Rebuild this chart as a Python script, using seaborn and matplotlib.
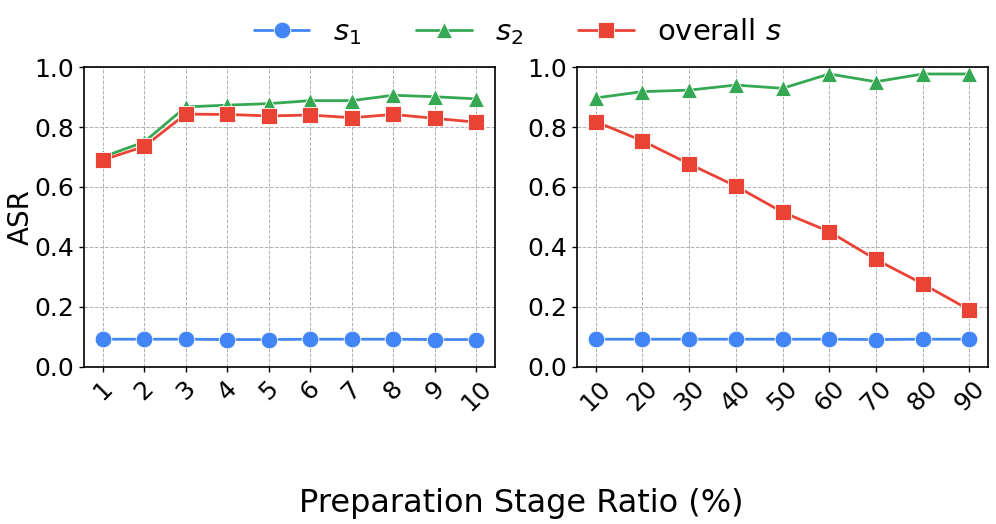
import matplotlib
matplotlib.use("Agg")
import matplotlib.pyplot as plt
import seaborn as sns
import pandas as pd

# left panel: ratio 1..10 %
ratio_left = [1, 2, 3, 4, 5, 6, 7, 8, 9, 10]
s1_left = [0.092, 0.092, 0.092, 0.091, 0.091, 0.092, 0.092, 0.092, 0.091, 0.091]
s2_left = [0.700, 0.750, 0.867, 0.873, 0.878, 0.888, 0.888, 0.906, 0.901, 0.894]
overall_left = [0.690, 0.735, 0.843, 0.842, 0.837, 0.840, 0.831, 0.842, 0.829, 0.816]

# right panel: ratio 10..90 %
ratio_right = [10, 20, 30, 40, 50, 60, 70, 80, 90]
s1_right = [0.092, 0.092, 0.092, 0.092, 0.092, 0.092, 0.091, 0.092, 0.092]
s2_right = [0.897, 0.918, 0.923, 0.940, 0.929, 0.977, 0.951, 0.977, 0.977]
overall_right = [0.818, 0.754, 0.677, 0.603, 0.516, 0.451, 0.358, 0.277, 0.190]

series_labels = ["$s_1$", "$s_2$", "overall $s$"]
colors = ["#4285F4", "#34A853", "#EA4335"]
markers = ["o", "^", "s"]

sns.set_style("white")
plt.rcParams["font.family"] = ["DejaVu Sans"]
plt.rcParams["text.color"] = "black"
plt.rcParams["axes.labelcolor"] = "black"
plt.rcParams["xtick.color"] = "black"
plt.rcParams["ytick.color"] = "black"

fig = plt.figure(figsize = (9.96, 5.24), dpi = 100)
ax_left = fig.add_axes([0.0843, 0.300, 0.4127, 0.572])
ax_right = fig.add_axes([0.5793, 0.300, 0.4127, 0.572])

panels = [
    (ax_left, ratio_left, [s1_left, s2_left, overall_left]),
    (ax_right, ratio_right, [s1_right, s2_right, overall_right]),
]

for ax, xs, ys in panels:
    for i in range(len(series_labels)):
        df = pd.DataFrame({"ratio": xs, "asr": ys[i]})
        sns.lineplot(data = df, x = "ratio", y = "asr", ax = ax, color = colors[i], marker = markers[i],
                     markersize = 12, markeredgecolor = "white", markeredgewidth = 0.6,
                     linewidth = 2, label = series_labels[i], legend = False)
    ax.set_ylim(0.0, 1.0)
    ax.set_xticks(xs)
    ax.set_xticklabels([str(x) for x in xs], rotation = 45, fontsize = 18)
    ax.set_yticks([0.0, 0.2, 0.4, 0.6, 0.8, 1.0])
    ax.set_yticklabels(["0.0", "0.2", "0.4", "0.6", "0.8", "1.0"], fontsize = 18)
    ax.grid(True, linestyle = "--", color = "#b0b0b0", linewidth = 0.7)
    ax.tick_params(axis = "both", which = "both", length = 3.5, width = 1, direction = "out", bottom = True, left = True)
    for spine in ax.spines.values():
        spine.set_color("black")
        spine.set_linewidth(1.2)
    ax.set_xlabel("")
    ax.set_ylabel("")

ax_left.set_ylabel("ASR", fontsize = 20, labelpad = 0)

handles, labels = ax_left.get_legend_handles_labels()
fig.legend(handles, labels, loc = "upper center", bbox_to_anchor = (0.52, 1.015), ncol = 3,
           frameon = False, fontsize = 21, handlelength = 1.9, handletextpad = 0.8, columnspacing = 1.9)
fig.supxlabel("Preparation Stage Ratio (%)", fontsize = 23, x = 0.523, y = 0.01)

plt.savefig("out.png", format = "png", dpi = 100)
plt.close()
